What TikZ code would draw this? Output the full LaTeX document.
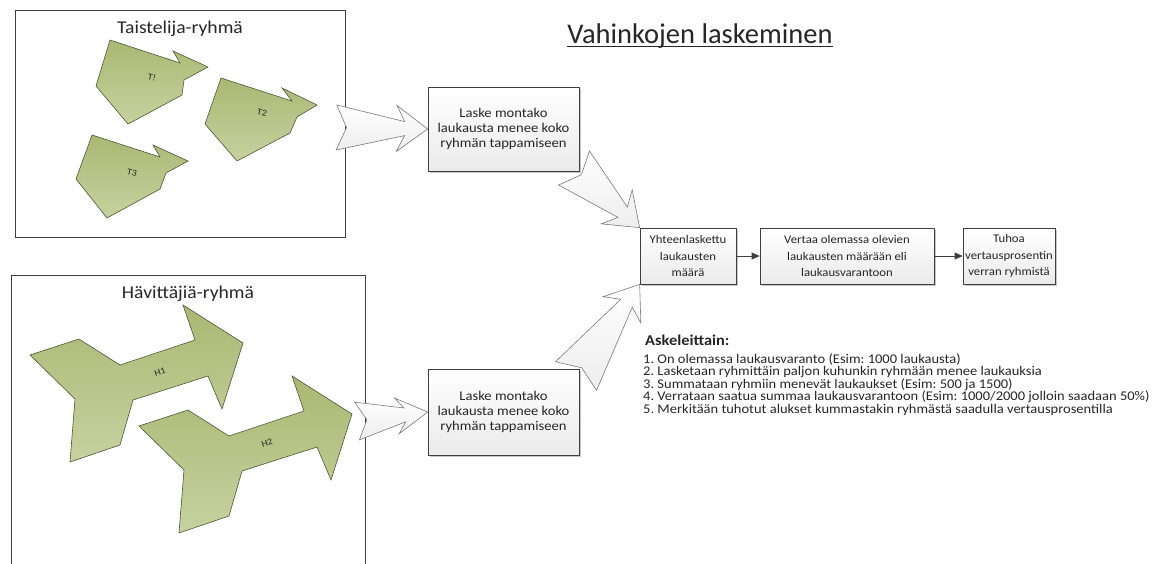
\documentclass[tikz,border=0pt]{standalone}
\usepackage{fontspec}
\setmainfont{Carlito}
\newfontfamily\widefont[FakeStretch=1.09]{Carlito}
\usetikzlibrary{calc,arrows.meta,shadows}
\frenchspacing

\definecolor{inkgray}{HTML}{262626}
\definecolor{framegray}{HTML}{3F3F3F}
\definecolor{olivetop}{HTML}{A9B873}
\definecolor{olivebot}{HTML}{C6D2A0}
\definecolor{oliveline}{HTML}{4F5535}
\definecolor{arrowline}{HTML}{7A7A7A}

\tikzset{
  groupframe/.style={draw=framegray, line width=0.8pt},
  grouptitle/.style={font=\widefont\fontsize{18}{22}\selectfont, text=inkgray, anchor=base, inner sep=0pt},
  procbox/.style={draw=framegray, line width=0.7pt, top color=white, bottom color=gray!16,
    align=center, inner sep=2pt, text=inkgray,
    font=\widefont\fontsize{13.4}{15}\selectfont,
    drop shadow={shadow xshift=1.5pt, shadow yshift=-1.5pt, fill=gray, opacity=0.45}},
  smallbox/.style={procbox, minimum height=56pt, inner xsep=0.5pt,
    font=\widefont\fontsize{11.7}{16.5}\selectfont},
  fighter/.style={draw=oliveline, line width=0.6pt, top color=olivetop, bottom color=olivebot, line join=miter},
  blockarrow/.style={draw=arrowline, line width=0.6pt, top color=white, bottom color=gray!14, line join=miter},
  flowarrow/.style={draw=framegray, line width=0.7pt, -{Triangle[length=8pt,width=7pt]}},
  tag/.style={font=\widefont\fontsize{9}{10}\selectfont, text=inkgray, inner sep=0pt},
  steptext/.style={font=\widefont\fontsize{13.3}{15}\selectfont, text=inkgray, anchor=base west, inner sep=0pt},
  pics/hplane/.style={code={
    \draw[fighter] (0,0) -- (49,-16) -- (90,10) -- (165,-15) -- (153,-50) -- (213,-12)
      -- (192,54) -- (178,21) -- (103,45) -- (90,90) -- (40,107) -- (45,44) -- cycle;}},
}

% tapered block arrow: #1 tail centre, #2 tip, #3 tail half width, #4 head half width
\newcommand\taperedarrow[4]{%
  \coordinate (ta-n) at ($#2!23pt!#1$);
  \coordinate (ta-b) at ($#2!31pt!#1$);
  \draw[blockarrow]
    ($#1!#3!90:#2$) -- ($(ta-n)!7pt!90:#2$) -- ($(ta-b)!#4!90:#2$) -- #2
    -- ($(ta-b)!#4!-90:#2$) -- ($(ta-n)!7pt!-90:#2$) -- ($#1!#3!-90:#2$)
    -- ($#1!10pt!#2$) -- cycle;}

\begin{document}
\begin{tikzpicture}[x=1pt,y=-1pt]
\useasboundingbox (0,0) rectangle (1155,563);

% heading
\node[inner sep=0pt, anchor=base, font=\fontsize{28.5}{34}\selectfont, text=inkgray] (title) at (700,43) {Vahinkojen laskeminen};
\draw[inkgray, line width=1pt] ([yshift=-3.5pt]title.base west) -- ([yshift=-3.5pt]title.base east);

% group frames
\draw[groupframe] (15,10) rectangle (345,237);
\node[grouptitle] (tgtitle) at (180,33) {Taistelija-ryhmä};
\draw[groupframe] (11,566) -- (11,275) -- (365,275) -- (365,566);
\node[grouptitle] (hgtitle) at (188,298) {Hävittäjiä-ryhmä};

% fighters
\draw[fighter] (110,40) -- (180,63) -- (173,51) -- (208,67) -- (184,80) -- (182,95) -- (128,124) -- (96,86) -- cycle;
\draw[fighter] (221,78) -- (292,101) -- (282,88) -- (317,105) -- (297,117) -- (290,133) -- (237,161) -- (205,124) -- cycle;
\draw[fighter] (92,135) -- (160,157) -- (153,145) -- (188,161) -- (166,173) -- (160,189) -- (107,218) -- (76,179) -- cycle;
\node[tag, rotate=-12] (t1tag) at (152,77) {T!};
\node[tag, rotate=-12] (t2tag) at (262,113) {T2};
\node[tag, rotate=-12] (t3tag) at (132,173) {T3};

% destroyers
\pic (h1) at (30,355) {hplane};
\pic (h2) at (139,426) {hplane};
\node[tag, rotate=18] (h1tag) at (160,372) {H1};
\node[tag, rotate=18] (h2tag) at (267,443) {H2};

% process boxes
\node[procbox, minimum width=151pt, minimum height=84pt] (count1) at (503.5,129)
  {Laske montako\\laukausta menee koko\\ryhmän tappamiseen};
\node[procbox, minimum width=151pt, minimum height=86pt] (count2) at (503.5,412)
  {Laske montako\\laukausta menee koko\\ryhmän tappamiseen};
\node[smallbox, minimum width=96pt] (total) at (688,256)
  {Yhteenlaskettu\\laukausten\\määrä};
\node[smallbox, minimum width=174pt] (compare) at (847,256)
  {Vertaa olemassa olevien\\laukausten määrään eli\\laukausvarantoon};
\node[smallbox, minimum width=92pt] (destroy) at (1009,256)
  {Tuhoa\\vertausprosentin\\verran ryhmistä};

\draw[flowarrow] (total) -- (compare);
\draw[flowarrow] (compare) -- (destroy);

% block arrows
\coordinate (a1tail) at (336.5,127.5);
\taperedarrow{(a1tail)}{(count1.west)}{22.5pt}{23pt}
\coordinate (a2tail) at (574,168);
\taperedarrow{(a2tail)}{(total.north west)}{23pt}{23pt}
\coordinate (a3tail) at (357,421);
\taperedarrow{(a3tail)}{(count2.west)}{19pt}{18pt}
\coordinate (a4tail) at (576,376);
\taperedarrow{(a4tail)}{(total.south west)}{25pt}{23pt}

% steps
\node[steptext, font=\widefont\bfseries\fontsize{15}{17}\selectfont] (s0) at (645,345) {Askeleittain:};
\node[steptext] (s1) at (643,363) {1. On olemassa laukausvaranto (Esim: 1000 laukausta)};
\node[steptext] (s2) at (643,375.5) {2. Lasketaan ryhmittäin paljon kuhunkin ryhmään menee laukauksia};
\node[steptext] (s3) at (643,388) {3. Summataan ryhmiin menevät laukaukset (Esim: 500 ja 1500)};
\node[steptext] (s4) at (643,400.5) {4. Verrataan saatua summaa laukausvarantoon (Esim: 1000/2000 jolloin saadaan 50\%)};
\node[steptext] (s5) at (643,413) {5. Merkitään tuhotut alukset kummastakin ryhmästä saadulla vertausprosentilla};
\end{tikzpicture}
\end{document}
